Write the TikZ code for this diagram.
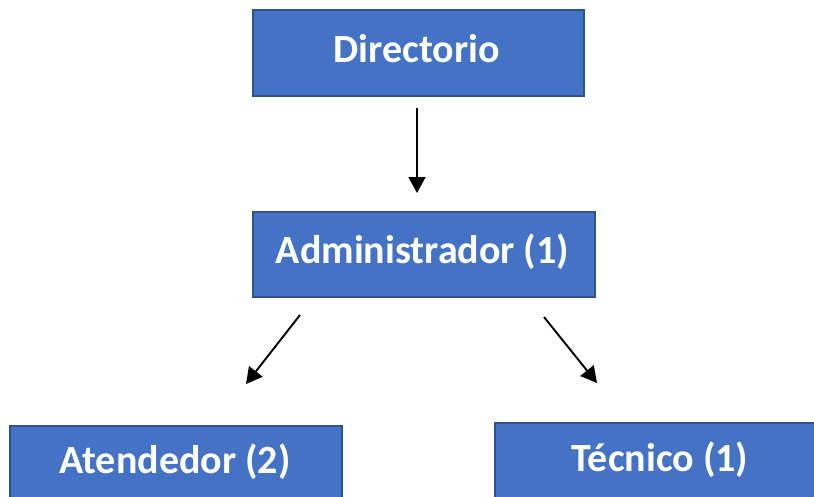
\documentclass[tikz,border=0pt]{standalone}
\usepackage{fontspec}
\setmainfont{Carlito}
\usetikzlibrary{arrows.meta}
\definecolor{boxfill}{HTML}{4472C4}
\definecolor{boxline}{HTML}{2F528F}
\begin{document}
\begin{tikzpicture}[x=1pt,y=-1pt,
  box/.style={draw=boxline,fill=boxfill,line width=1.4pt,inner sep=0pt,rectangle},
  lbl/.style={text=white,font=\fontsize{40}{48}\selectfont\bfseries,inner sep=0pt,anchor=base},
  conn/.style={line width=1.9pt,-{Triangle[length=16pt,width=17pt]}}]
\useasboundingbox (0,0) rectangle (814,496);
\clip (0,0) rectangle (814,496);
\fill[white] (0,0) rectangle (814,496);
% boxes
\node[box,minimum width=331pt,minimum height=86pt] (dir) at (418.5,53) {};
\node[box,minimum width=342pt,minimum height=85pt] (adm) at (424,254.5) {};
\node[box,minimum width=332pt,minimum height=80pt] (ate) at (176,466) {};
\node[box,minimum width=340pt,minimum height=80pt] (tec) at (665,463) {};
% labels
\node[lbl] (tdir) at (416.5,62) {Directorio};
\node[lbl] (tadm) at (422.5,263) {Administrador (1)};
\node[lbl] (tate) at (175,473) {Atendedor (2)};
\node[lbl] (ttec) at (660,471) {Técnico (1)};
% connector ends
\coordinate (a1) at (417,108);
\coordinate (a2) at (417,193);
\coordinate (b1) at (300,315);
\coordinate (b2) at (246,384);
\coordinate (c1) at (544,317);
\coordinate (c2) at (597,383);
\draw[conn] (a1) -- (a2);
\draw[conn] (b1) -- (b2);
\draw[conn] (c1) -- (c2);
\end{tikzpicture}
\end{document}
